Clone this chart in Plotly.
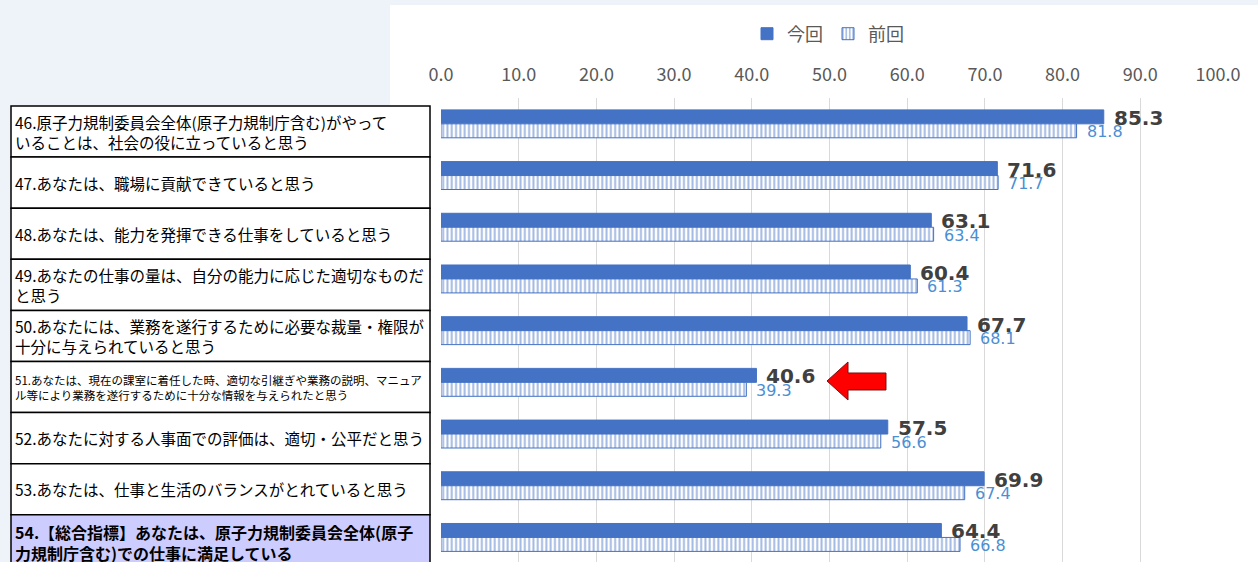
import plotly.graph_objects as go

W, H = 1258, 562

categories = ["Q46", "Q47", "Q48", "Q49", "Q50", "Q51", "Q52", "Q53", "Q54"]
current_vals = [85.3, 71.6, 63.1, 60.4, 67.7, 40.6, 57.5, 69.9, 64.4]
previous_vals = [81.8, 71.7, 63.4, 61.3, 68.1, 39.3, 56.6, 67.4, 66.8]
series_names = ["今回", "前回"]
tick_vals = [0, 10, 20, 30, 40, 50, 60, 70, 80, 90, 100]
row_labels = [
    "46.原子力規制委員会全体(原子力規制庁含む)がやって<br>いることは、社会の役に立っていると思う",
    "47.あなたは、職場に貢献できていると思う",
    "48.あなたは、能力を発揮できる仕事をしていると思う",
    "49.あなたの仕事の量は、自分の能力に応じた適切なものだ<br>と思う",
    "50.あなたには、業務を遂行するために必要な裁量・権限が<br>十分に与えられていると思う",
    "51.あなたは、現在の課室に着任した時、適切な引継ぎや業務の説明、マニュア<br>ル等により業務を遂行するために十分な情報を与えられたと思う",
    "52.あなたに対する人事面での評価は、適切・公平だと思う",
    "53.あなたは、仕事と生活のバランスがとれていると思う",
    "54.【総合指標】あなたは、原子力規制委員会全体(原子<br>力規制庁含む)での仕事に満足している",
]

BLUE = "#4472C4"
JP = "Noto Sans CJK JP"


def px(x):
    return x / W


def py(y):
    return 1 - y / H


fig = go.Figure()
fig.add_trace(go.Bar(
    y=categories, x=current_vals, name=series_names[0], orientation="h",
    marker=dict(color=BLUE, line=dict(color=BLUE, width=1)),
))
fig.add_trace(go.Bar(
    y=categories, x=previous_vals, name=series_names[1], orientation="h",
    marker=dict(color="white", line=dict(color=BLUE, width=1),
                pattern=dict(shape="|", fgcolor=BLUE, bgcolor="white",
                             size=4.3, solidity=0.45, fillmode="overlay")),
))

annotations = []
for c, v in zip(categories, current_vals):
    annotations.append(dict(x=v, y=c, xref="x", yref="y", text=f"<b>{v:.1f}</b>",
                            showarrow=False, xanchor="left", yanchor="middle",
                            xshift=8, yshift=6,
                            font=dict(family="DejaVu Sans", size=20, color="#404040")))
for c, v in zip(categories, previous_vals):
    annotations.append(dict(x=v, y=c, xref="x", yref="y", text=f"{v:.1f}",
                            showarrow=False, xanchor="left", yanchor="middle",
                            xshift=8, yshift=-8,
                            font=dict(family="DejaVu Sans", size=16, color="#4A8FD4")))

shapes = []
# white chart area
shapes.append(dict(type="rect", xref="paper", yref="paper",
                   x0=px(390), x1=px(W), y0=py(5), y1=py(H + 5),
                   fillcolor="white", line=dict(width=0), layer="below"))

row_top = 106
row_h = 51.1
for i, lab in enumerate(row_labels):
    y0 = row_top + row_h * i
    y1 = y0 + row_h
    last = i == len(row_labels) - 1
    shapes.append(dict(type="rect", xref="paper", yref="paper",
                       x0=px(11), x1=px(430), y0=py(y0), y1=py(y1 + (10 if last else 0)),
                       fillcolor="#CCCCFF" if last else "white",
                       line=dict(color="black", width=1.5), layer="below"))
    size = 11.5 if i == 5 else (16 if last else 15.5)
    text = f"<b>{lab}</b>" if last else lab
    annotations.append(dict(x=px(13), y=py((y0 + y1) / 2 + (2 if last else 0)), xref="paper", yref="paper",
                            text=text, showarrow=False, xanchor="left", yanchor="middle",
                            align="left", font=dict(family=JP, size=size, color="black")))

# red arrow
pts = [(827, 381), (848, 362), (848, 373), (886, 373), (886, 390), (848, 390), (848, 400)]
path = "M " + " L ".join(f"{px(a):.5f},{py(b):.5f}" for a, b in pts) + " Z"
shapes.append(dict(type="path", xref="paper", yref="paper", path=path,
                   fillcolor="#FF0000", line=dict(color="#7A1010", width=1), layer="above"))

fig.update_layout(
    width=W, height=H,
    margin=dict(l=0, r=0, t=0, b=0, pad=0, autoexpand=False),
    paper_bgcolor="#EEF3FA", plot_bgcolor="white",
    barmode="group", bargap=0.46, bargroupgap=0,
    showlegend=True,
    legend=dict(orientation="h", x=px(828), y=py(34), xanchor="center", yanchor="middle",
                font=dict(family=JP, size=18, color="#595959"), itemwidth=30,
                bgcolor="rgba(0,0,0,0)"),
    xaxis=dict(domain=[px(441), px(1218)], range=[0, 100], side="top",
               tickvals=tick_vals, tickformat=".1f", showgrid=True,
               gridcolor="#D9D9D9", gridwidth=1, zeroline=False, showline=False,
               ticks="", ticklabelstandoff=12, automargin=False,
               tickfont=dict(family=JP, size=18, color="#595959")),
    yaxis=dict(domain=[0, py(98)], type="category", range=[8.475, -0.5],
               showticklabels=False, showgrid=False, zeroline=False, showline=False,
               automargin=False),
    shapes=shapes, annotations=annotations,
)

fig.write_html("out.html")
